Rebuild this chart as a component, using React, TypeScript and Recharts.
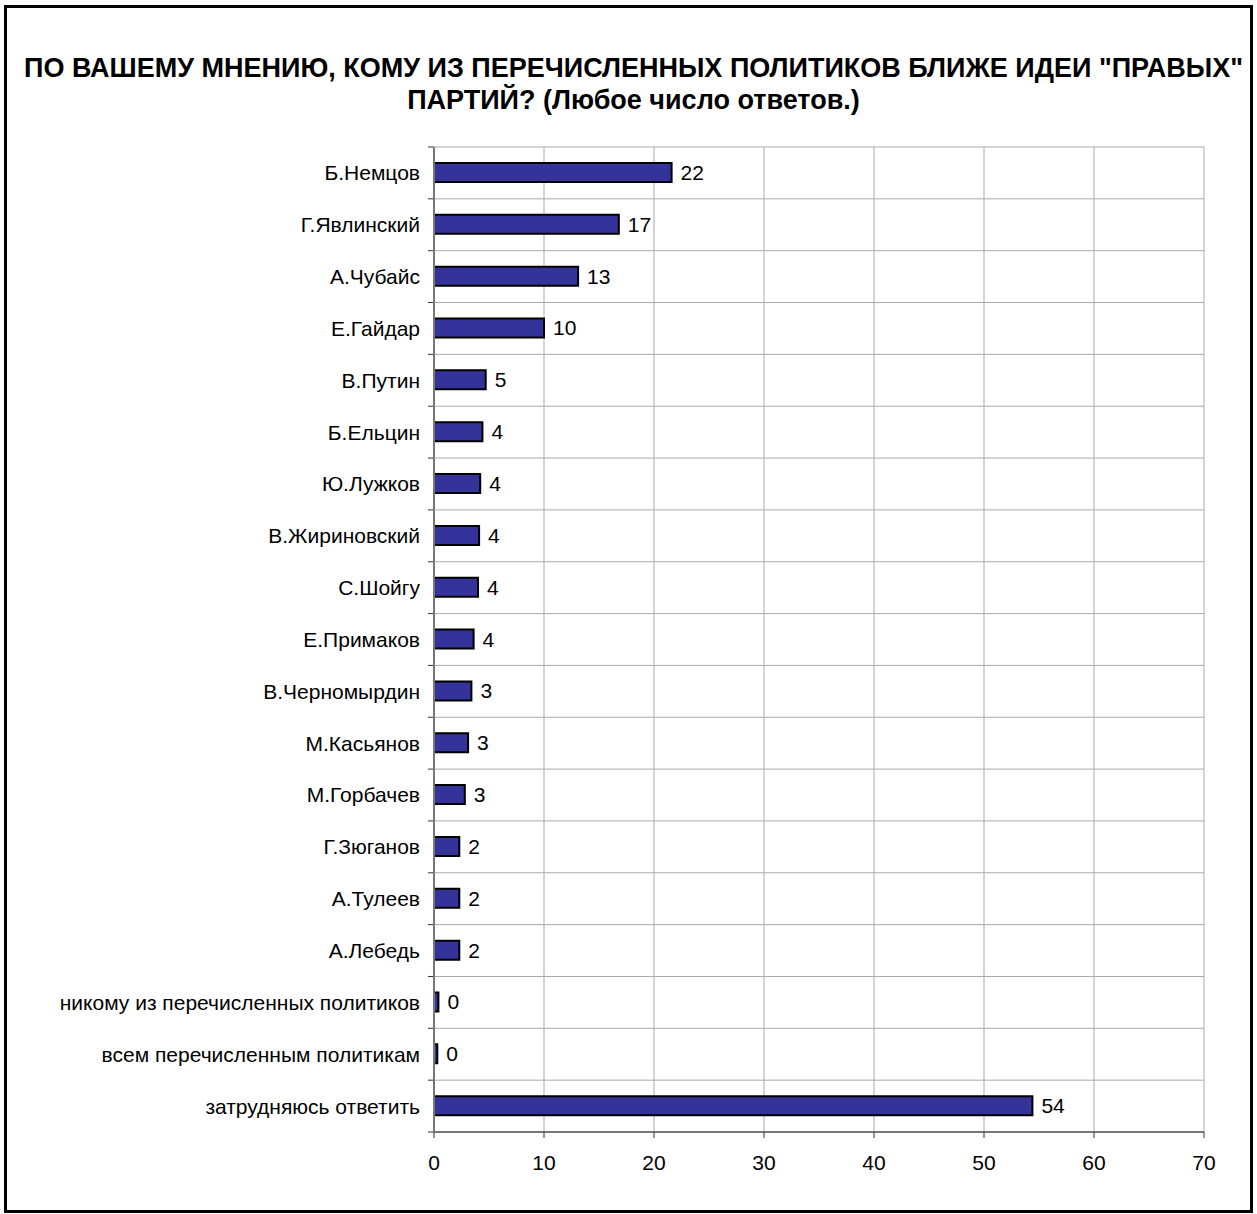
import React from "react";
import {
  BarChart,
  Bar,
  XAxis,
  YAxis,
  CartesianGrid,
  LabelList,
} from "recharts";

const politicians = [
  "Б.Немцов",
  "Г.Явлинский",
  "А.Чубайс",
  "Е.Гайдар",
  "В.Путин",
  "Б.Ельцин",
  "Ю.Лужков",
  "В.Жириновский",
  "С.Шойгу",
  "Е.Примаков",
  "В.Черномырдин",
  "М.Касьянов",
  "М.Горбачев",
  "Г.Зюганов",
  "А.Тулеев",
  "А.Лебедь",
  "никому из перечисленных политиков",
  "всем перечисленным политикам",
  "затрудняюсь ответить",
];

const shares = [
  21.6, 16.8, 13.1, 10.0, 4.7, 4.4, 4.2, 4.1, 4.0, 3.6, 3.4, 3.1, 2.8, 2.3,
  2.3, 2.3, 0.4, 0.3, 54.4,
];

const xTicks = [0, 10, 20, 30, 40, 50, 60, 70];

const titleLines = [
  'ПО ВАШЕМУ МНЕНИЮ, КОМУ ИЗ ПЕРЕЧИСЛЕННЫХ ПОЛИТИКОВ БЛИЖЕ ИДЕИ "ПРАВЫХ"',
  "ПАРТИЙ? (Любое число ответов.)",
];

const data = politicians.map((name, i) => ({ name, value: shares[i] }));

const FONT = '"Liberation Sans", Arial, sans-serif';

// grid line plus a short dark tick to the left of the axis (Excel style)
const HLine = (p: any) => (
  <g key={p.key ?? `h-${p.y1}`}>
    <line x1={p.x1} y1={p.y1} x2={p.x2} y2={p.y2} stroke="#aaaaaa" strokeWidth={1} />
    <line x1={p.x1 - 6} y1={p.y1} x2={p.x1} y2={p.y2} stroke="#333333" strokeWidth={1} />
  </g>
);

export default function App() {
  return (
    <div
      style={{
        position: "absolute",
        left: 0,
        top: 0,
        width: 1257,
        height: 1214,
        background: "#fff",
        fontFamily: FONT,
      }}
    >
      <div
        style={{
          position: "absolute",
          left: 4,
          top: 5,
          width: 1249,
          height: 1208,
          boxSizing: "border-box",
          border: "3px solid #000",
        }}
      />
      <div
        style={{
          position: "absolute",
          left: 0,
          top: 52,
          width: 1267,
          textAlign: "center",
          fontSize: 27,
          lineHeight: "32px",
          fontWeight: "bold",
          color: "#000",
          whiteSpace: "nowrap",
        }}
      >
        {titleLines.map((t) => (
          <div key={t}>{t}</div>
        ))}
      </div>
      <div style={{ position: "absolute", left: 0, top: 0 }}>
        <BarChart
          width={1257}
          height={1214}
          data={data}
          layout="vertical"
          margin={{ top: 147, right: 53, left: 0, bottom: 0 }}
        >
          <CartesianGrid
            stroke="#aaaaaa"
            horizontalCoordinatesGenerator={(args: any) => {
              const top = args?.offset?.top ?? 147;
              const h = args?.offset?.height ?? 985;
              return politicians.map((_, i) => top + (i * h) / politicians.length).concat(top + h);
            }}
            horizontal={HLine}
          />
          <XAxis
            type="number"
            domain={[0, 70]}
            ticks={xTicks}
            height={82}
            axisLine={{ stroke: "#777777", strokeWidth: 2 }}
            tickLine={{ stroke: "#333333" }}
            tickSize={6}
            tickMargin={17}
            tick={{ fill: "#000", fontSize: 21, fontFamily: FONT }}
          />
          <YAxis
            type="category"
            dataKey="name"
            width={434}
            interval={0}
            axisLine={{ stroke: "#777777", strokeWidth: 2 }}
            tickLine={false}
            tickSize={6}
            tickMargin={8}
            tick={{ fill: "#000", fontSize: 21, fontFamily: FONT }}
          />
          <Bar
            dataKey="value"
            fill="#333399"
            stroke="#000"
            strokeWidth={2}
            barSize={19}
            isAnimationActive={false}
          >
            <LabelList
              dataKey="value"
              position="right"
              offset={9}
              formatter={(v: any) => Math.round(Number(v))}
              style={{ fill: "#000", fontSize: 21, fontFamily: FONT }}
            />
          </Bar>
        </BarChart>
      </div>
    </div>
  );
}
